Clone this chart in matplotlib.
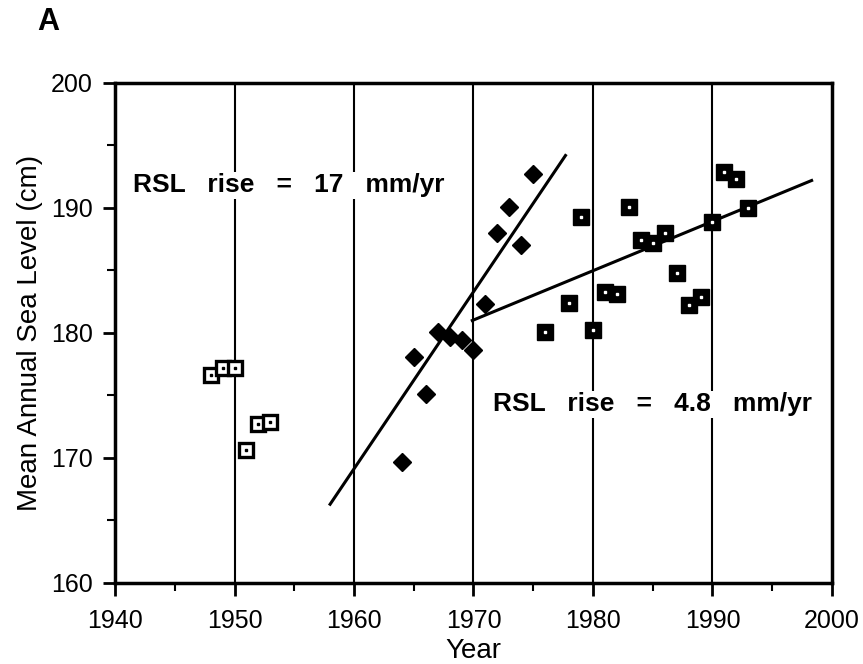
import numpy as np
import matplotlib.pyplot as plt

plt.rcParams['font.family'] = ['Liberation Sans', 'DejaVu Sans']

# early record (open squares)
early_years = [1948, 1949, 1950, 1951, 1952, 1953]
early_levels = [176.6, 177.2, 177.2, 170.6, 172.7, 172.9]

# 1964-1975 (diamonds)
mid_years = [1964, 1965, 1966, 1967, 1968, 1969, 1970, 1971, 1972, 1973, 1974, 1975]
mid_levels = [169.7, 178.1, 175.1, 180.1, 179.7, 179.4, 178.6, 182.3, 188.0, 190.1, 187.0, 192.7]

# 1976-1993 (filled squares)
late_years = [1976, 1978, 1979, 1980, 1981, 1982, 1983, 1984, 1985, 1986,
              1987, 1988, 1989, 1990, 1991, 1992, 1993]
late_levels = [180.1, 182.4, 189.3, 180.2, 183.3, 183.1, 190.1, 187.4, 187.2, 188.0,
               184.8, 182.2, 182.9, 188.9, 192.9, 192.3, 190.0]

# fitted trend lines (end points)
fast_trend_years = [1958.0, 1977.7]
fast_trend_levels = [166.3, 194.2]
slow_trend_years = [1969.9, 1998.3]
slow_trend_levels = [181.0, 192.2]

fig = plt.figure(figsize=(8.63, 6.64), dpi=100)
ax = fig.add_axes([0.1333, 0.122, 0.8307, 0.753])

for yr in [1950, 1960, 1970, 1980, 1990]:
    ax.axvline(yr, color='black', lw=1.5, zorder=1)

ax.plot(fast_trend_years, fast_trend_levels, color='black', lw=2.2, zorder=2)
ax.plot(slow_trend_years, slow_trend_levels, color='black', lw=2.2, zorder=2)

# open squares with a center dot
ax.plot(early_years, early_levels, 's', ms=10, mfc='white', mec='black', mew=2.4, zorder=3)
ax.plot(early_years, early_levels, 's', ms=2, mfc='black', mec='black', zorder=4)

ax.plot(mid_years, mid_levels, 'D', ms=9.5, color='black', zorder=3)

# filled squares with a white center dot
ax.plot(late_years, late_levels, 's', ms=11, color='black', zorder=3)
ax.plot(late_years, late_levels, 's', ms=1.6, mfc='white', mec='white', zorder=4)

box = dict(facecolor='white', edgecolor='none', pad=1)
ax.text(1941.5, 191.8, 'RSL   rise   =   17   mm/yr', fontsize=19, fontweight='bold',
        va='center', ha='left', bbox=box, zorder=5)
ax.text(1971.6, 174.3, 'RSL   rise   =   4.8   mm/yr', fontsize=19, fontweight='bold',
        va='center', ha='left', bbox=box, zorder=5)

ax.set_xlim(1940, 2000)
ax.set_ylim(160, 200)
ax.set_xticks(np.arange(1940, 2001, 10))
ax.set_xticks(np.arange(1945, 2000, 10), minor=True)
ax.set_yticks(np.arange(160, 201, 10))
ax.set_yticks(np.arange(165, 200, 10), minor=True)
ax.tick_params(which='major', direction='out', length=9, width=2, labelsize=18, pad=7)
ax.tick_params(axis='x', which='major', pad=10)
ax.tick_params(which='minor', direction='out', length=6, width=1.5)
for s in ax.spines.values():
    s.set_linewidth(2.5)

ax.set_xlabel('Year', fontsize=20, labelpad=3)
ax.set_ylabel('Mean Annual Sea Level (cm)', fontsize=20, labelpad=6)

fig.text(0.043, 0.99, 'A', fontsize=22, fontweight='bold', va='top', ha='left')

fig.savefig('out.png', dpi=100)
